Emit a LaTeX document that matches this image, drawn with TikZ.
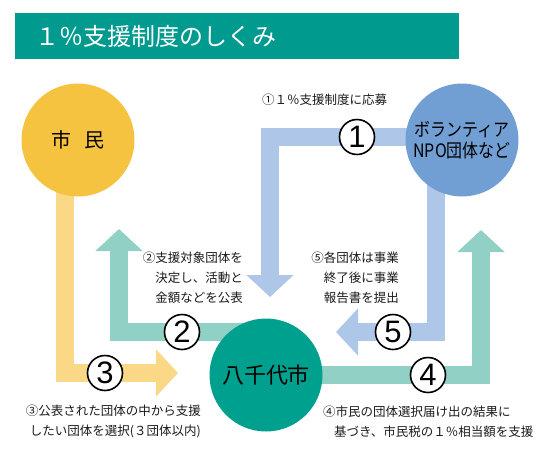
\documentclass[tikz,border=0pt]{standalone}
\usepackage{fontspec}
\newfontfamily\jpfont{Noto Sans CJK JP}
\newfontfamily\jpnarrow[FakeStretch=0.86]{Noto Sans CJK JP}
\newfontfamily\numfont{Liberation Sans}
\usepackage{tikz}
\usetikzlibrary{
    arrows.meta,
    backgrounds
}

\definecolor{titleteal}{RGB}{0,154,143}
\definecolor{citizenyellow}{RGB}{246,195,64}
\definecolor{npoblue}{RGB}{113,158,211}
\definecolor{cityteal}{RGB}{0,160,143}
\definecolor{bandblue}{RGB}{174,198,232}
\definecolor{bandteal}{RGB}{145,208,197}
\definecolor{bandyellow}{RGB}{251,216,133}

\begin{document}
\begin{tikzpicture}[x=1pt,y=-1pt,
    party/.style={circle,inner sep=0pt,minimum size=113pt,text=black},
    band/.style={line width=18.5pt,line join=miter,-{Triangle[width=46pt,length=22pt]}},
    stepnum/.style={circle,draw=black,fill=white,line width=1.6pt,minimum size=35pt,
        inner sep=0pt,font=\numfont\fontsize{31}{31}\selectfont},
    note/.style={inner sep=0pt,text=black!90,font=\jpfont\fontsize{12.5}{20}\selectfont}
]
\useasboundingbox (0,0) rectangle (550,451);

% Title bar
\node[anchor=north west,fill=titleteal,text=white,minimum height=46pt,
    text width=404pt,inner xsep=20pt,align=left,
    font=\jpfont\fontsize{24}{24}\selectfont] (title) at (15,13) {１％支援制度のしくみ};

% The three parties
\node[party,fill=citizenyellow,font=\jpfont\fontsize{20}{20}\selectfont] (citizen) at (78,140) {市\hspace{0.7em}民};
\node[party,fill=npoblue,align=center,font=\jpnarrow\fontsize{18.5}{21}\selectfont] (npo) at (462,140) {ボランティア\\NPO団体など};
\node[party,fill=cityteal,font=\jpfont\fontsize{22}{22}\selectfont] (city) at (266,375) {八千代市};

% Corners and tips of the bands
\coordinate (k1) at (270,137);
\coordinate (t1) at (270,297);
\coordinate (k2) at (119,332);
\coordinate (t2) at (119,229);
\coordinate (k3) at (65,373);
\coordinate (t3) at (178,373);
\coordinate (k4) at (481,375);
\coordinate (t4) at (481,230);
\coordinate (k5) at (436,332);
\coordinate (t5) at (336,332);

% Bands behind everything
\begin{scope}[on background layer]
\draw[band,bandblue] (npo.center |- k1) -- (k1) -- (t1);
\draw[band,bandteal] (city.center |- k2) -- (k2) -- (t2);
\draw[band,bandyellow] (k3 |- citizen.center) -- (k3) -- (t3);
\draw[band,bandteal] (city.center) -- (k4) -- (t4);
\draw[band,bandblue] (k5 |- npo.center) -- (k5) -- (t5);
\end{scope}

% Step numbers
\node[stepnum] (n1) at (357,137) {1};
\node[stepnum] (n2) at (182,332) {2};
\node[stepnum] (n3) at (105,373) {3};
\node[stepnum] (n4) at (428,375) {4};
\node[stepnum] (n5) at (393,332) {5};

% Notes
\node[note,anchor=west] (note1) at (262,100) {①１％支援制度に応募};
\node[note,anchor=east,align=right] (note2) at (243,278) {②支援対象団体を\\決定し、活動と\\金額などを公表};
\node[note,anchor=east,align=right] (note3) at (201,421) {③公表された団体の中から支援\\したい団体を選択(３団体以内)};
\node[note,anchor=west,align=left] (note4) at (323,422) {④市民の団体選択届け出の結果に\\\hspace{11pt}基づき、市民税の１％相当額を支援};
\node[note,anchor=east,align=right] (note5) at (399,278) {⑤各団体は事業\\終了後に事業\\報告書を提出};

\end{tikzpicture}
\end{document}
